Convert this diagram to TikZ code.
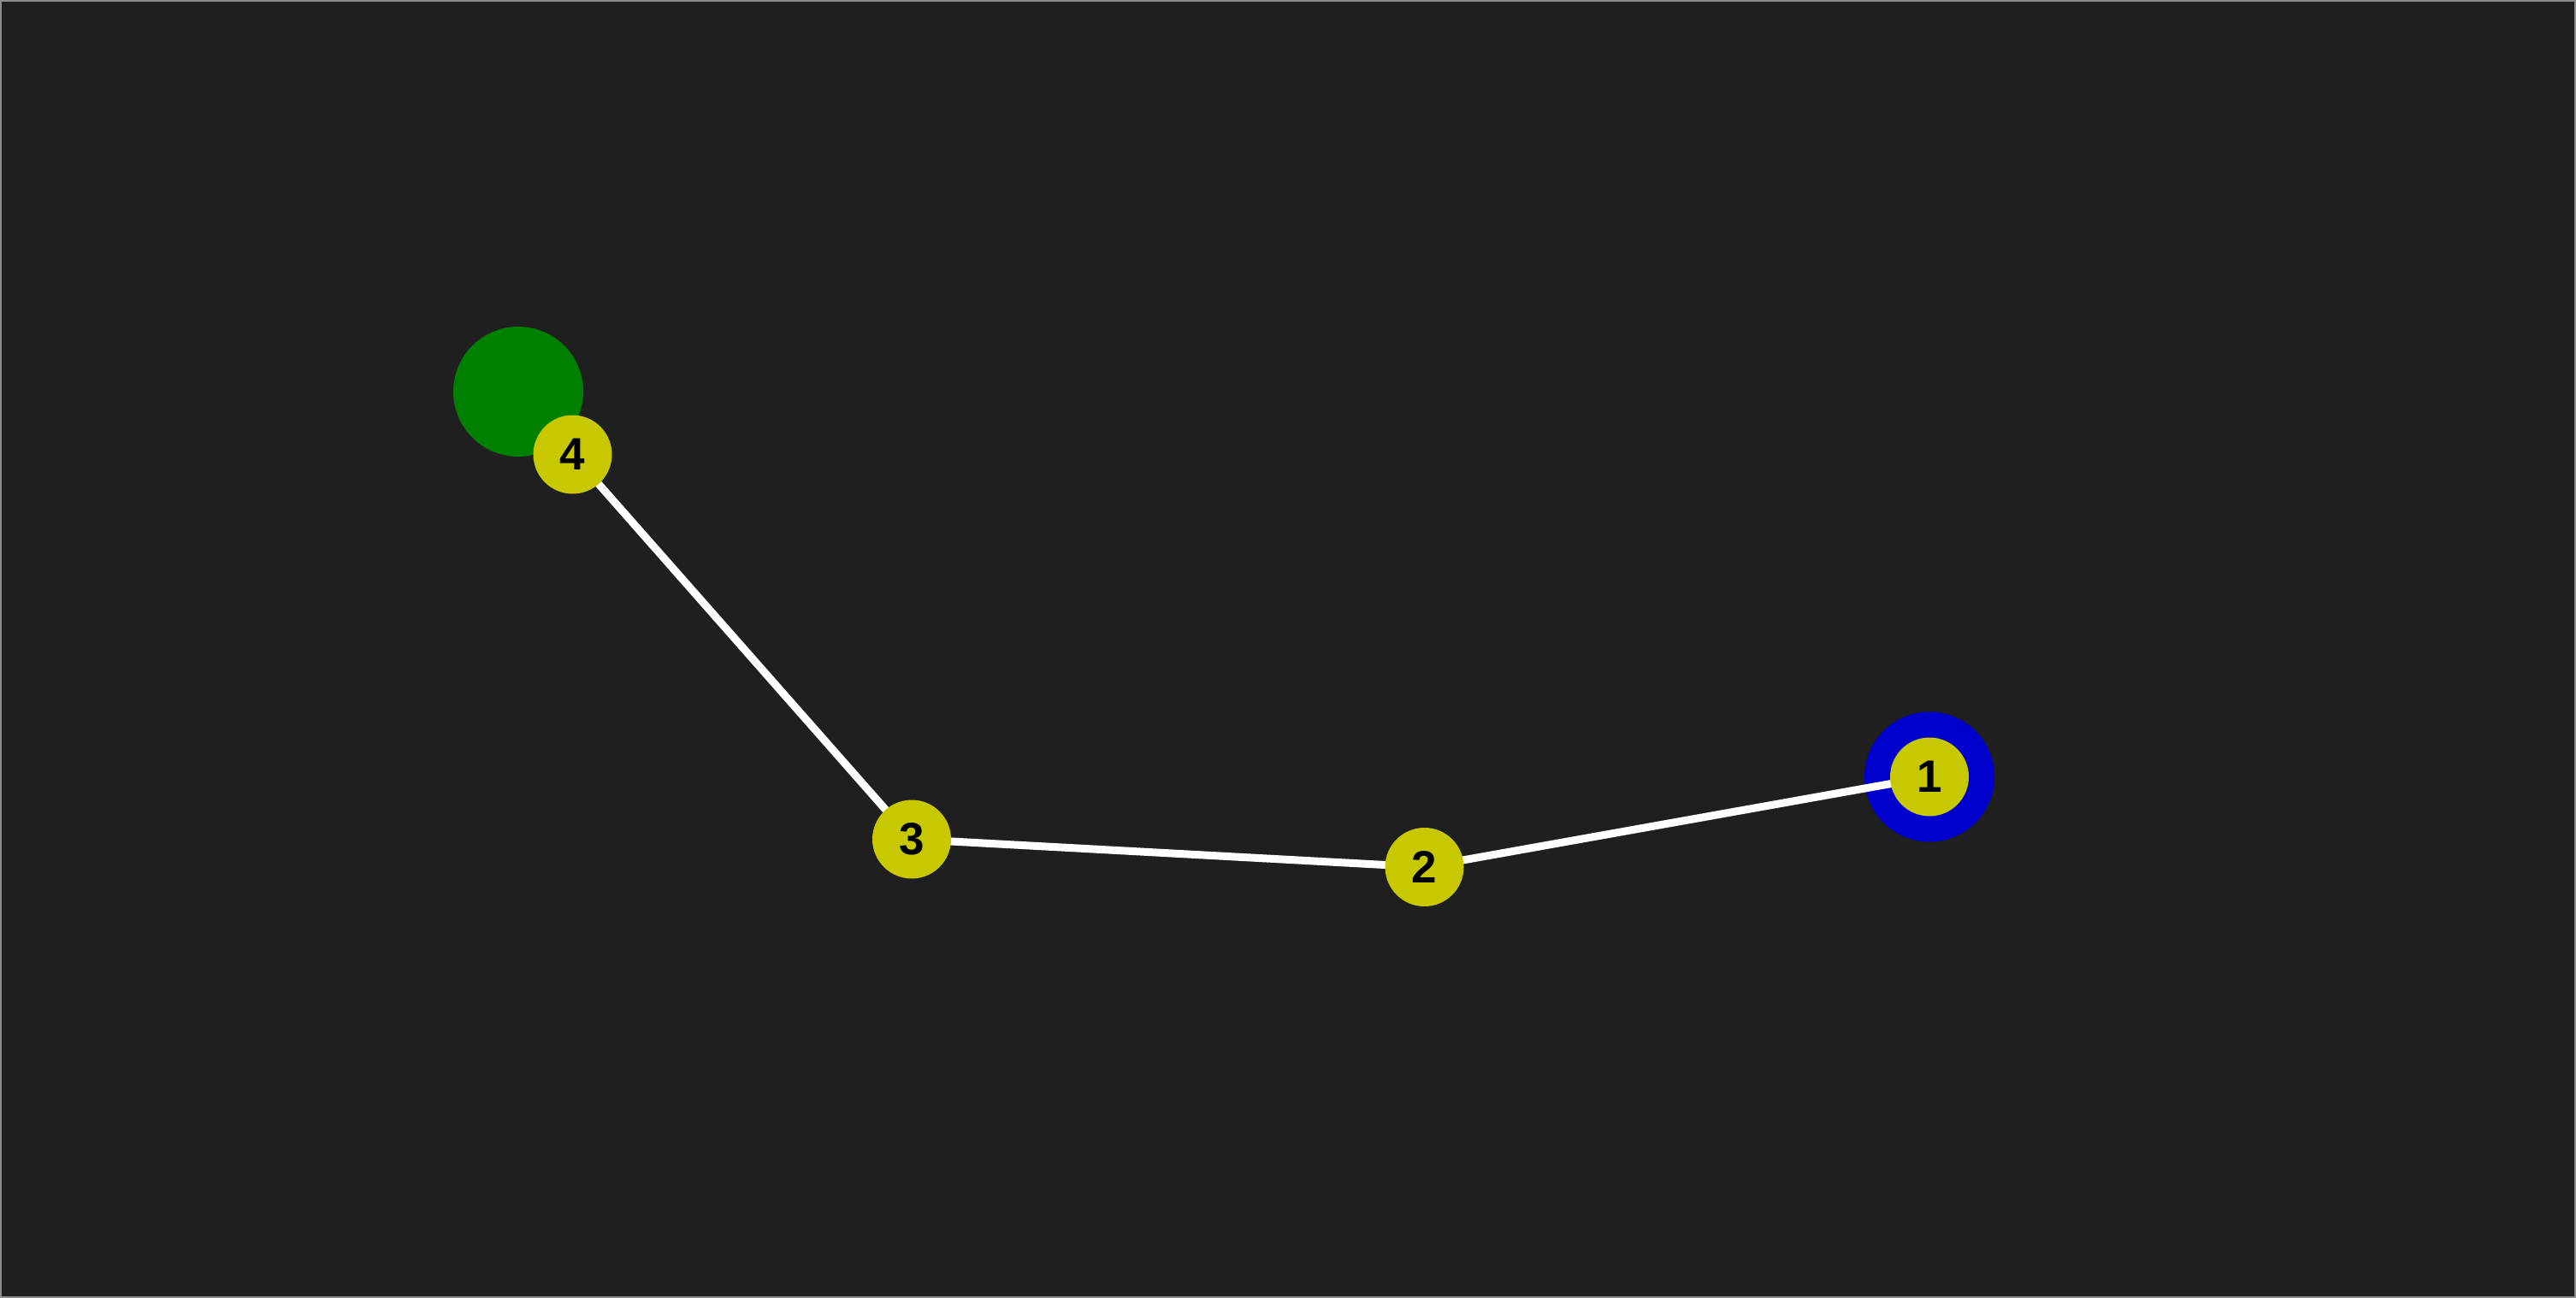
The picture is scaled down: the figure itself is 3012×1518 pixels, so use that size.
\documentclass[tikz,border=0pt]{standalone}
\usepackage{fontspec}
\setmainfont{Liberation Sans}
\definecolor{bgdark}{HTML}{1F1F1F}
\definecolor{frame}{HTML}{8C8C8C}
\definecolor{stopyellow}{HTML}{C8C800}
\definecolor{startgreen}{HTML}{008000}
\definecolor{endblue}{HTML}{0000CC}
\begin{document}
\begin{tikzpicture}[x=0.5pt, y=-0.5pt,
  stop/.style = {circle, fill=stopyellow, minimum size=46pt, inner sep=0pt, outer sep=0pt, font=\fontsize{26.5}{26.5}\selectfont\bfseries},
  mark/.style = {circle, fill=#1, minimum size=76pt, inner sep=0pt, outer sep=0pt},
  link/.style = {white, line width=4.5pt}]

% Background
\useasboundingbox (0,0) rectangle (3012,1518);
\fill[bgdark] (0,0) rectangle (3012,1518);
\draw[frame, line width=1pt] (1,1) rectangle (3011,1517);

% Start and end marks
\node[mark=startgreen] (start) at (606,458) {};
\node[mark=endblue] (finish) at (2256,908.5) {};

% Stops
\coordinate (p1) at (2256,908.5);
\coordinate (p2) at (1665.5,1014);
\coordinate (p3) at (1066,981.5);
\coordinate (p4) at (669.5,531.5);

% Route
\draw[link] (p4) -- (p3) -- (p2) -- (p1);

\node[stop] (s1) at (p1) {1};
\node[stop] (s2) at (p2) {2};
\node[stop] (s3) at (p3) {3};
\node[stop] (s4) at (p4) {4};

\end{tikzpicture}
\end{document}
